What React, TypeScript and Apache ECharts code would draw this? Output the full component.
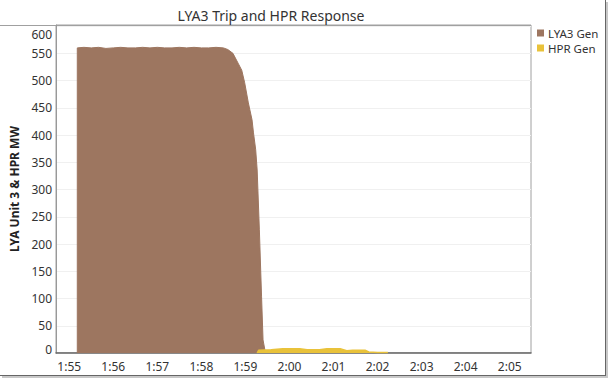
import React, { useEffect, useRef } from "react";
import * as echarts from "echarts";

const title = "LYA3 Trip and HPR Response";
const yAxisName = "LYA Unit 3 & HPR MW";
const seriesNames = ["LYA3 Gen", "HPR Gen"];

const lya3Time = [
  "1:55:11", "1:55:11", "1:55:20", "1:55:30", "1:55:40", "1:55:50", "1:56:00", "1:56:10",
  "1:56:20", "1:56:30", "1:56:40", "1:56:50", "1:57:00", "1:57:10", "1:57:20", "1:57:30",
  "1:57:40", "1:57:50", "1:58:00", "1:58:10", "1:58:20", "1:58:30", "1:58:36", "1:58:43",
  "1:58:50", "1:58:55", "1:58:59", "1:59:04", "1:59:09", "1:59:11", "1:59:14", "1:59:16",
  "1:59:19", "1:59:22", "1:59:24", "1:59:27", "1:59:28",
];
const lya3Gen = [
  0, 560, 561, 560, 561, 559, 560, 561,
  560, 560, 561, 560, 561, 560, 560, 561,
  560, 561, 560, 560, 561, 560, 557, 550,
  532, 519, 496, 459, 428, 404, 373, 336,
  226, 103, 24, 2, 0,
];

const hprTime = [
  "1:59:16", "1:59:18", "1:59:35", "1:59:51", "2:00:05", "2:00:14", "2:00:24", "2:00:41",
  "2:00:51", "2:01:09", "2:01:18", "2:01:26", "2:01:43", "2:01:48", "2:02:00", "2:02:14",
];
const hprGen = [0, 5, 6, 8, 8, 8, 6, 6, 8, 8, 4, 5, 5, 2, 1, 1];

const xTickLabels = ["1:55", "1:56", "1:57", "1:58", "1:59", "2:00", "2:01", "2:02", "2:03", "2:04", "2:05"];
const yTickLabels = [0, 50, 100, 150, 200, 250, 300, 350, 400, 450, 500, 550, 600];

const toSec = (s: string) => {
  const p = s.split(":").map(Number);
  return p[0] * 3600 + p[1] * 60 + (p[2] || 0);
};
const fmt = (v: number) => {
  const h = Math.floor(v / 3600);
  const m = Math.round((v - h * 3600) / 60);
  return `${h}:${String(m).padStart(2, "0")}`;
};

const FONT = "'Noto Sans', 'Open Sans', sans-serif";
const BROWN = "#9D7660";
const YELLOW = "#E9C23A";

export default function App() {
  const ref = useRef<HTMLDivElement>(null);
  useEffect(() => {
    document.body.style.margin = "0";
    const chart = echarts.init(ref.current!, undefined, { renderer: "svg" });
    const lyaData = lya3Time.map((t, i) => [toSec(t), lya3Gen[i]]);
    const hprData = hprTime.map((t, i) => [toSec(t), hprGen[i]]);
    const xVals = xTickLabels.map((t) => toSec(t));
    chart.setOption({
      animation: false,
      backgroundColor: "#ffffff",
      title: {
        text: title,
        left: 266,
        top: 3,
        textAlign: "center",
        textStyle: { fontFamily: FONT, fontSize: 14, fontWeight: "normal", color: "#333" },
      },
      legend: {
        orient: "vertical",
        left: 537,
        top: 26,
        itemWidth: 7,
        itemHeight: 7,
        itemGap: 1,
        icon: "rect",
        padding: 0,
        textStyle: { fontFamily: FONT, fontSize: 11.5, lineHeight: 14, color: "#333", padding: [0, 0, 0, -1] },
        data: seriesNames,
      },
      grid: {
        left: 56,
        right: 79,
        top: 25,
        bottom: 25,
        show: true,
        borderColor: "#a0a0a0",
        borderWidth: 1,
        outerBoundsMode: "none",
        containLabel: false,
      },
      xAxis: {
        type: "value",
        min: 6882,
        max: 7529,
        axisLine: { show: true, onZero: false, lineStyle: { color: "#666", width: 1.5 } },
        axisTick: { show: false, customValues: xVals },
        splitLine: { show: false },
        axisLabel: {
          customValues: xVals,
          formatter: (v: number) => fmt(v),
          fontFamily: FONT,
          fontSize: 12,
          color: "#333",
          margin: 7,
        },
      },
      yAxis: {
        type: "value",
        min: 0,
        max: 602,
        name: yAxisName,
        nameLocation: "middle",
        nameGap: 34,
        nameTextStyle: { fontFamily: FONT, fontSize: 12, fontWeight: "bold", color: "#222" },
        axisLine: { show: true, lineStyle: { color: "#999", width: 1 } },
        axisTick: { show: false, customValues: yTickLabels },
        splitLine: { show: true, lineStyle: { color: "#f0f0f0", width: 1 } },
        axisLabel: {
          customValues: yTickLabels,
          fontFamily: FONT,
          fontSize: 12,
          color: "#333",
          margin: 4,
          formatter: (v: number) =>
            v === 0 ? "{lo|0}" : v === 600 ? "{hi|600}" : String(v),
          rich: {
            lo: { fontFamily: FONT, fontSize: 12, color: "#333", padding: [0, 0, 8, 0] },
            hi: { fontFamily: FONT, fontSize: 12, color: "#333", padding: [16, 0, 0, 0] },
          },
        },
      },
      series: [
        {
          name: seriesNames[0],
          type: "line",
          data: lyaData,
          showSymbol: false,
          smooth: false,
          lineStyle: { color: BROWN, width: 1 },
          itemStyle: { color: BROWN },
          areaStyle: { color: BROWN, opacity: 1 },
          z: 2,
        },
        {
          name: seriesNames[1],
          type: "line",
          data: hprData,
          showSymbol: false,
          smooth: false,
          lineStyle: { color: YELLOW, width: 1.5 },
          itemStyle: { color: YELLOW },
          areaStyle: { color: YELLOW, opacity: 1 },
          z: 3,
        },
      ],
      graphic: [
        { type: "line", shape: { x1: 0, y1: 25.5, x2: 531, y2: 25.5 }, style: { stroke: "#a0a0a0", lineWidth: 1 }, silent: true },
        { type: "line", shape: { x1: 605.5, y1: 0, x2: 605.5, y2: 376 }, style: { stroke: "#666", lineWidth: 1 }, silent: true },
        { type: "line", shape: { x1: 607, y1: 2, x2: 607, y2: 378 }, style: { stroke: "#c8c8c8", lineWidth: 2 }, silent: true },
        { type: "line", shape: { x1: 0, y1: 375.5, x2: 606, y2: 375.5 }, style: { stroke: "#666", lineWidth: 1 }, silent: true },
        { type: "line", shape: { x1: 2, y1: 377, x2: 608, y2: 377 }, style: { stroke: "#c8c8c8", lineWidth: 2 }, silent: true },
      ],
    });
    return () => chart.dispose();
  }, []);
  return (
    <div
      ref={ref}
      style={{ position: "absolute", left: 0, top: 0, width: 610, height: 378 }}
    />
  );
}
